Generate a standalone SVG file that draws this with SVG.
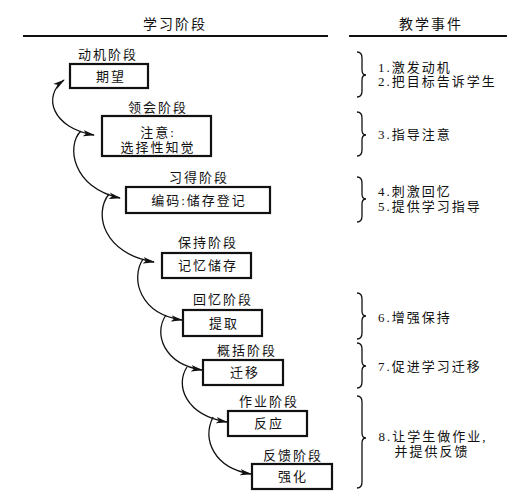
<svg xmlns="http://www.w3.org/2000/svg" width="529" height="500" viewBox="0 0 529 500">
<defs>
<style>
text{font-family:"Liberation Serif","Noto Sans CJK SC",serif;font-size:13px;fill:#111;letter-spacing:2px}
.m{text-anchor:middle}
.h{font-size:14px;letter-spacing:2px}
.box{fill:#fff;stroke:#111;stroke-width:2.2}
.rule{stroke:#111;stroke-width:2}
.arc{fill:none;stroke:#111;stroke-width:1.3}
.br{fill:none;stroke:#111;stroke-width:1.3}
</style>
<marker id="ah" viewBox="0 0 12 8" refX="11" refY="4" markerWidth="12" markerHeight="8" markerUnits="userSpaceOnUse" orient="auto-start-reverse">
<path d="M0,0.8 L12,4 L0,7.2 L3,4 Z" fill="#111"/>
</marker>
</defs>
<rect width="529" height="500" fill="#fff"/>
<g id="header">
<text class="m h" x="175" y="29">学习阶段</text>
<text class="m h" x="431" y="29">教学事件</text>
<line class="rule" x1="23" y1="36" x2="328" y2="36"/>
<line class="rule" x1="349" y1="36" x2="507" y2="36"/>
</g>
<g id="connectors">
<path class="arc" d="M64,80 C42,96 52,128 94,135" marker-start="url(#ah)" marker-end="url(#ah)"/>
<path class="arc" d="M81,131 C66,145 72,188 120,198" marker-end="url(#ah)"/>
<path class="arc" d="M109,194 C93,214 104,254 154,262" marker-end="url(#ah)"/>
<path class="arc" d="M143,259 C130,279 140,314 182,320" marker-end="url(#ah)"/>
<path class="arc" d="M166,315 C153,334 164,364 202,370" marker-end="url(#ah)"/>
<path class="arc" d="M187,367 C175,385 185,415 227,422" marker-end="url(#ah)"/>
<path class="arc" d="M213,417 C202,440 214,468 251,474" marker-end="url(#ah)"/>
</g>
<g id="n1">
<text class="m" x="108" y="59">动机阶段</text>
<rect class="box" x="70" y="64" width="78" height="24"/>
<text class="m" x="111" y="81">期望</text>
</g>
<g id="n2">
<text class="m" x="158" y="112">领会阶段</text>
<rect class="box" x="102" y="116" width="109" height="40"/>
<text class="m" x="158" y="137">注意:</text>
<text class="m" x="158" y="152">选择性知觉</text>
</g>
<g id="n3">
<text class="m" x="199" y="182">习得阶段</text>
<rect class="box" x="126" y="187" width="144" height="26"/>
<text class="m" x="199" y="205">编码:储存登记</text>
</g>
<g id="n4">
<text class="m" x="208" y="247">保持阶段</text>
<rect class="box" x="162" y="253" width="89" height="25"/>
<text class="m" x="208" y="270">记忆储存</text>
</g>
<g id="n5">
<text class="m" x="223" y="304">回忆阶段</text>
<rect class="box" x="183" y="310" width="79" height="26"/>
<text class="m" x="224" y="328">提取</text>
</g>
<g id="n6">
<text class="m" x="247" y="355">概括阶段</text>
<rect class="box" x="203" y="360" width="80" height="25"/>
<text class="m" x="245" y="377">迁移</text>
</g>
<g id="n7">
<text class="m" x="269" y="406">作业阶段</text>
<rect class="box" x="228" y="411" width="79" height="25"/>
<text class="m" x="269" y="428">反应</text>
</g>
<g id="n8">
<text class="m" x="293" y="460">反馈阶段</text>
<rect class="box" x="252" y="464" width="80" height="25"/>
<text class="m" x="293" y="481">强化</text>
</g>
<g id="events">
<path class="br" d="M357,52 Q362,52 362,58 L362,70 Q362,75 366,75 Q362,75 362,80 L362,91 Q362,97 357,97"/>
<text x="378" y="72">1.激发动机</text>
<text x="378" y="86">2.把目标告诉学生</text>
<path class="br" d="M357,112 Q362,112 362,118 L362,130 Q362,135 366,135 Q362,135 362,140 L362,150 Q362,156 357,156"/>
<text x="378" y="139">3.指导注意</text>
<path class="br" d="M357,177 Q362,177 362,183 L362,194 Q362,199 366,199 Q362,199 362,204 L362,216 Q362,222 357,222"/>
<text x="378" y="196">4.刺激回忆</text>
<text x="378" y="211">5.提供学习指导</text>
<path class="br" d="M357,293 Q362,293 362,299 L362,311 Q362,316 366,316 Q362,316 362,321 L362,333 Q362,339 357,339"/>
<text x="378" y="322">6.增强保持</text>
<path class="br" d="M357,343 Q362,343 362,349 L362,361 Q362,366 366,366 Q362,366 362,371 L362,382 Q362,388 357,388"/>
<text x="378" y="371">7.促进学习迁移</text>
<path class="br" d="M357,396 Q362,396 362,402 L362,433 Q362,438 366,438 Q362,438 362,443 L362,482 Q362,488 357,488"/>
<text class="m" x="433" y="441">8.让学生做作业,</text>
<text class="m" x="432" y="456">并提供反馈</text>
</g>
</svg>
